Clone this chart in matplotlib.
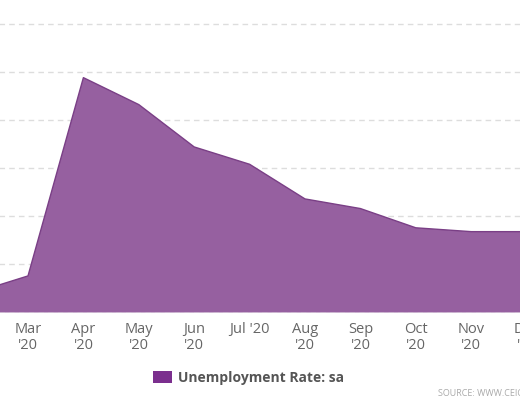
import matplotlib
matplotlib.use("Agg")
import matplotlib.pyplot as plt
from matplotlib.patches import Patch

months = ["Feb\n'20", "Mar\n'20", "Apr\n'20", "May\n'20", "Jun\n'20", "Jul '20",
          "Aug\n'20", "Sep\n'20", "Oct\n'20", "Nov\n'20", "Dec\n'20"]
rate = [3.5, 4.4, 14.7, 13.3, 11.1, 10.2, 8.4, 7.9, 6.9, 6.7, 6.7]
yticks = [2.5, 5, 7.5, 10, 12.5, 15, 17.5]
series_name = "Unemployment Rate: sa"
source = "SOURCE: WWW.CEICDATA.COM | Bureau of Labor Statistics"

plt.rcParams['font.family'] = ['Open Sans', 'DejaVu Sans']

W, H = 520, 400
L, R = -60, 580          # axes extends past the cropped figure edges
fig = plt.figure(figsize=(W / 100, H / 100), dpi=100)
ax = fig.add_axes([L / W, 0.21875, (R - L) / W, 0.78125])
x = list(range(len(rate)))
ymin = 2.5
ax.fill_between(x, rate, ymin, color='#9660a0', linewidth=0, zorder=2)
ax.plot(x, rate, color='#7a3f86', linewidth=1.0, zorder=3)

ax.set_yticks(yticks)
ax.set_xticks(x)
ax.set_xticklabels(months, fontsize=10.5, color='#666666', linespacing=1.05)
ax.set_xlim(1 + (L - 28) / 55.4, 1 + (R - 28) / 55.4)
ax.set_ylim(ymin, ymin + 312.5 / 19.25)
ax.yaxis.grid(True, color='#dddddd', linestyle=(0, (4, 3)), linewidth=1, zorder=1)
ax.set_axisbelow(True)
ax.tick_params(axis='y', left=False, labelleft=False)
ax.tick_params(axis='x', length=0, pad=7)
for s in ax.spines.values():
    s.set_visible(False)
ax.axhline(ymin, color='#e6e6e6', linewidth=1, linestyle=(0, (4, 3)), zorder=4)

handle = Patch(facecolor='#7b2f8e', edgecolor='none')
leg = fig.legend([handle], [series_name], loc='center left',
                 bbox_to_anchor=(140 / W, 1 - 378 / H), frameon=False,
                 handlelength=1.4, handleheight=0.9, handletextpad=0.4,
                 prop={'size': 10, 'weight': 'bold'})
for t in leg.get_texts():
    t.set_color('#555555')

fig.text(438 / W, 1 - 393 / H, source, fontsize=6.5, color='#aaaaaa',
         va='center', ha='left')

fig.savefig("out.png", dpi=100)
